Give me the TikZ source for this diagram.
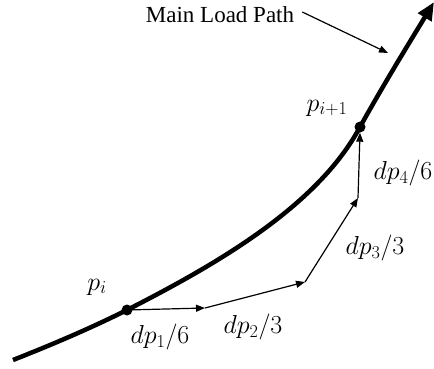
\RequirePackage{fix-cm}
\documentclass[tikz,border=0pt]{standalone}
\usepackage{fontspec}
\setmainfont{Liberation Serif}
\usetikzlibrary{arrows.meta}
\begin{document}
\begin{tikzpicture}[x=1pt, y=-1pt,
  stepvec/.style={line width=1.2pt, -{Triangle[length=9pt,width=7pt]}},
  dotnode/.style={circle, fill, inner sep=0pt, minimum size=11pt},
  lbl/.style={font=\fontsize{26}{30}\selectfont, inner sep=0pt},
  title/.style={font=\fontsize{23}{27}\selectfont, inner sep=0pt}]
\useasboundingbox (0,0) rectangle (434,369);
\node[dotnode] (pi) at (127,310) {};
\node[dotnode] (pnext) at (360,127) {};
\coordinate (start) at (13,360);
\coordinate (tip) at (434,2);
\coordinate (k1) at (205,308);
\coordinate (k2) at (305,282);
\coordinate (k3) at (358,198);
\coordinate (mlend) at (388,53);
% main load path
\draw[line width=4.5pt, -{Triangle[length=18pt,width=15pt]}] (start) .. controls (51,345) and (89,329) .. (pi.center) .. controls (215,265) and (317,207) .. (pnext.center) .. controls (385,82) and (408,45) .. (tip);
% increments
\draw[stepvec] (pi.center) -- (k1);
\draw[stepvec] (k1) -- (k2);
\draw[stepvec] (k2) -- (k3);
\draw[stepvec] (k3) -- (pnext.south);
\node[lbl] (lpi) at (97,287) {$p_i$};
\node[lbl] (lpnext) at (327,108) {$p_{i+1}$};
\node[lbl] (ld1) at (160,337) {$dp_1/6$};
\node[lbl] (ld2) at (253,327) {$dp_2/3$};
\node[lbl] (ld3) at (375,248) {$dp_3/3$};
\node[lbl] (ld4) at (403,173) {$dp_4/6$};
\node[title] (main) at (220,15) {Main Load Path};
\draw[stepvec] ([xshift=8pt,yshift=3pt]main.east) -- (mlend);
\end{tikzpicture}
\end{document}
